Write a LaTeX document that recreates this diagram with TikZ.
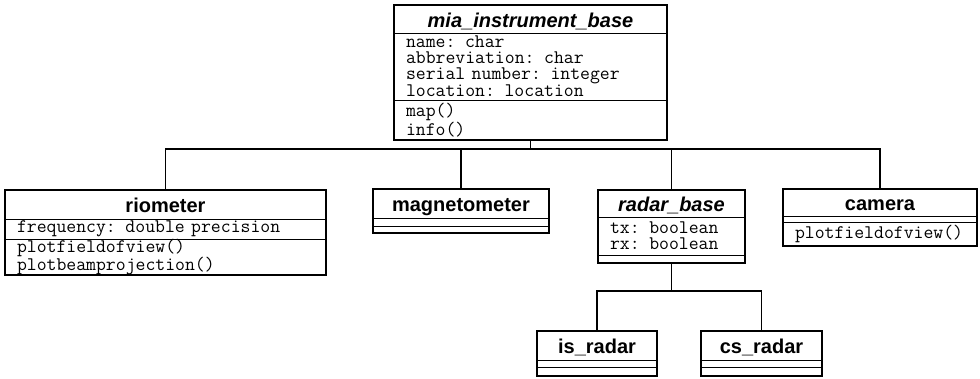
\documentclass[tikz,border=0pt]{standalone}
\usepackage{fontspec}
\setmainfont{Liberation Sans}
\usetikzlibrary{positioning}

\tikzset{
  classname/.style={draw, line width=1pt, outer sep=0pt, inner sep=0pt, anchor=north west,
    text height=16pt, text depth=0pt, font=\bfseries\fontsize{20}{20}\selectfont},
  classpart/.style={draw, line width=1pt, outer sep=0pt, inner xsep=12pt, inner ysep=0pt,
    anchor=north west, align=left, font=\ttfamily\fontsize{19.2}{16}\selectfont},
  outline/.style={line width=1.8pt},
  link/.style={line width=1.8pt}
}

\begin{document}
\begin{tikzpicture}[x=1pt, y=-1pt]
				\useasboundingbox (0,0) rectangle (980,378);

				\node (mia) [classname, minimum width=273, minimum height=28] at (394, 5) {\itshape mia\_instrument\_base};
				\node (mia-attr) [classpart, text width=249, minimum height=67] at (mia.south west) {name: char\\abbreviation: char\\serial number: integer\\location: location};
				\node (mia-ops) [classpart, text width=249, minimum height=40] at (mia-attr.south west) {map()\\info()};
				\draw[outline] (mia.north west) rectangle (mia-ops.south east);

				\node (riometer) [classname, minimum width=321, minimum height=29] at (5, 190) {riometer};
				\node (riometer-attr) [classpart, text width=297, minimum height=20] at (riometer.south west) {frequency: double precision};
				\node (riometer-ops) [classpart, text width=297, minimum height=30] at (riometer-attr.south west) {plotfieldofview()\\plotbeamprojection()};
				\draw[outline] (riometer.north west) rectangle (riometer-ops.south east);

				\node (magnetometer) [classname, minimum width=176, minimum height=29] at (373, 189) {magnetometer};
				\node (magnetometer-attr) [classpart, text width=152, minimum height=8] at (magnetometer.south west) {};
				\node (magnetometer-ops) [classpart, text width=152, minimum height=7] at (magnetometer-attr.south west) {};
				\draw[outline] (magnetometer.north west) rectangle (magnetometer-ops.south east);

				\node (radar) [classname, minimum width=147, minimum height=27] at (598, 190) {\itshape radar\_base};
				\node (radar-attr) [classpart, text width=123, minimum height=38] at (radar.south west) {tx: boolean\\rx: boolean};
				\node (radar-ops) [classpart, text width=123, minimum height=8] at (radar-attr.south west) {};
				\draw[outline] (radar.north west) rectangle (radar-ops.south east);

				\node (camera) [classname, minimum width=194, minimum height=27] at (783, 189) {camera};
				\node (camera-attr) [classpart, text width=170, minimum height=6] at (camera.south west) {};
				\node (camera-ops) [classpart, text width=170, minimum height=24] at (camera-attr.south west) {plotfieldofview()};
				\draw[outline] (camera.north west) rectangle (camera-ops.south east);

				\node (isradar) [classname, minimum width=120, minimum height=29] at (537, 331) {is\_radar};
				\node (isradar-attr) [classpart, text width=96, minimum height=7] at (isradar.south west) {};
				\node (isradar-ops) [classpart, text width=96, minimum height=9] at (isradar-attr.south west) {};
				\draw[outline] (isradar.north west) rectangle (isradar-ops.south east);

				\node (csradar) [classname, minimum width=121, minimum height=29] at (701, 331) {cs\_radar};
				\node (csradar-attr) [classpart, text width=97, minimum height=7] at (csradar.south west) {};
				\node (csradar-ops) [classpart, text width=97, minimum height=9] at (csradar-attr.south west) {};
				\draw[outline] (csradar.north west) rectangle (csradar-ops.south east);

				\coordinate (Bus) at (530.5, 149);
				\draw[link] (mia-ops.south) -- (Bus);
				\draw[link] (riometer.north) |- (Bus);
				\draw[link] (magnetometer.north) |- (Bus);
				\draw[link] (radar.north) |- (Bus);
				\draw[link] (camera.north) |- (Bus);

				\coordinate (RadarBus) at (671.5, 291);
				\draw[link] (radar-ops.south) -- (RadarBus);
				\draw[link] (isradar.north) |- (RadarBus);
				\draw[link] (csradar.north) |- (RadarBus);
			\end{tikzpicture}
\end{document}
